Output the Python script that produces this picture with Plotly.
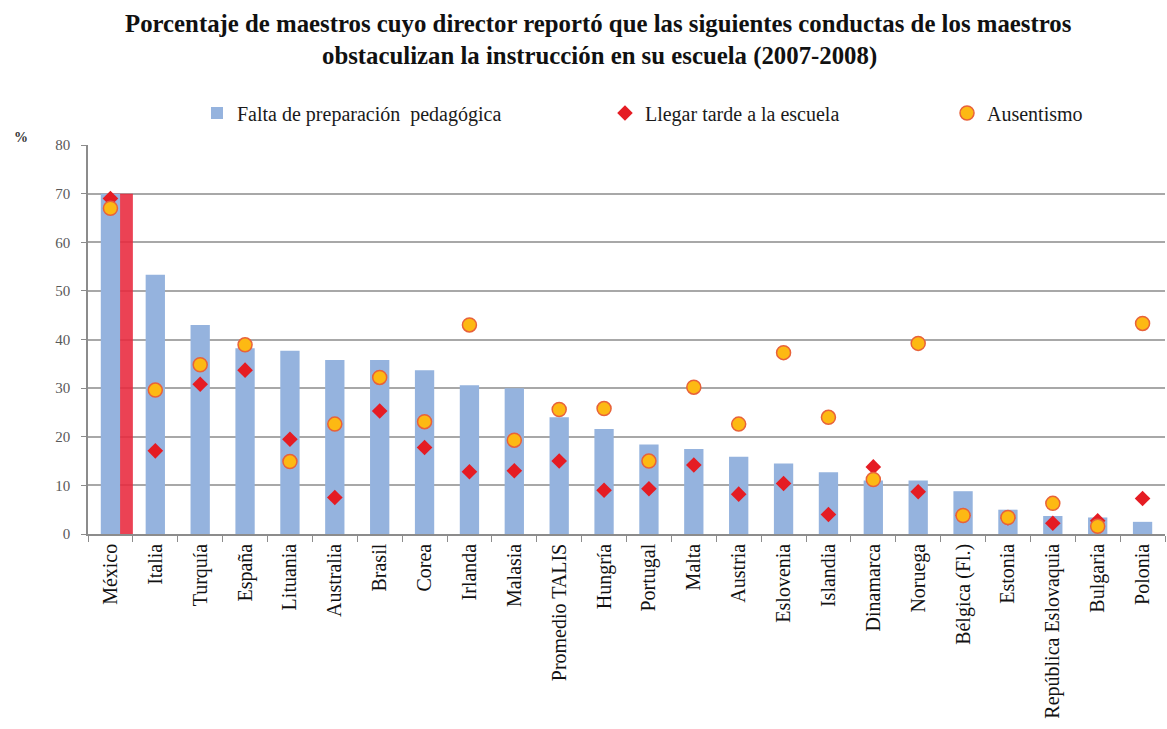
import plotly.graph_objects as go

categories = ["México", "Italia", "Turquía", "España", "Lituania", "Australia", "Brasil",
              "Corea", "Irlanda", "Malasia", "Promedio TALIS", "Hungría", "Portugal",
              "Malta", "Austria", "Eslovenia", "Islandia", "Dinamarca", "Noruega",
              "Bélgica (Fl.)", "Estonia", "República Eslovaquia", "Bulgaria", "Polonia"]

falta_preparacion = [70.0, 53.3, 43.0, 38.2, 37.7, 35.8, 35.8, 33.7, 30.6, 30.0, 24.0, 21.6,
                     18.4, 17.5, 15.9, 14.5, 12.7, 11.0, 11.0, 8.8, 5.0, 3.7, 3.4, 2.5]

llegar_tarde = [69.0, 17.1, 30.8, 33.7, 19.5, 7.5, 25.3, 17.8, 12.8, 13.0, 15.0, 9.0,
                9.3, 14.2, 8.2, 10.4, 4.0, 13.8, 8.7, 3.8, 3.3, 2.2, 2.7, 7.3]

ausentismo = [67.0, 29.6, 34.8, 38.9, 14.9, 22.6, 32.2, 23.1, 43.0, 19.3, 25.6, 25.8,
              15.0, 30.2, 22.6, 37.3, 24.0, 11.2, 39.2, 3.8, 3.4, 6.3, 1.6, 43.3]

highlight_cat = [categories[0]]
highlight_val = [falta_preparacion[0]]

title_line1 = "<b>Porcentaje de maestros cuyo director reportó que las siguientes conductas de los maestros</b>"
title_line2 = "<b>obstaculizan la instrucción en su escuela (2007-2008)</b>"

SERIF = "Liberation Serif, Times New Roman, serif"
W, H = 1167, 729
ML, MR, MT, MB = 88, 2, 145, 195
PW, PH = W - ML - MR, H - MT - MB


def px_x(px):
    return (px - ML) / PW


def px_y(py):
    return (H - MB - py) / PH


fig = go.Figure()

# México highlight (red glow behind the bar)
fig.add_trace(go.Bar(
    x=highlight_cat, y=highlight_val, width=0.52, offset=-0.02,
    marker=dict(color="rgba(232,40,60,0.88)", line=dict(width=0)),
    showlegend=False, hoverinfo="skip"))

fig.add_trace(go.Bar(
    x=categories, y=falta_preparacion, name="Falta de preparación  pedagógica",
    width=0.43, offset=-0.215,
    marker=dict(color="#95b3de", line=dict(width=0)),
    legend="legend"))

fig.add_trace(go.Scatter(
    x=categories, y=llegar_tarde, name="Llegar tarde a la escuela", mode="markers",
    marker=dict(symbol="diamond", size=12, color="#e51c23", line=dict(width=0)),
    legend="legend2"))

fig.add_trace(go.Scatter(
    x=categories, y=ausentismo, name="Ausentismo", mode="markers",
    marker=dict(symbol="circle", size=14, color="#fdb913", line=dict(width=1.5, color="#e8623a")),
    legend="legend3"))

leg_common = dict(xref="container", yref="container", yanchor="middle", xanchor="left",
                  orientation="h", bgcolor="rgba(0,0,0,0)",
                  font=dict(family=SERIF, size=20, color="#1a1a1a"), itemwidth=30)

fig.update_layout(
    width=W, height=H,
    paper_bgcolor="white", plot_bgcolor="white",
    margin=dict(l=ML, r=MR, t=MT, b=MB),
    barmode="overlay",
    legend=dict(x=0.1688, y=1 - 113/H, **leg_common),
    legend2=dict(x=0.5184, y=1 - 113/H, **leg_common),
    legend3=dict(x=0.8115, y=1 - 113/H, **leg_common),
    xaxis=dict(
        tickangle=-90, tickfont=dict(family=SERIF, size=20, color="#111111"),
        showline=True, linecolor="#8c8c8c", linewidth=1.5,
        ticks="outside", tickson="boundaries", ticklen=6, tickcolor="#8c8c8c",
        showgrid=False, range=[-0.5, len(categories) - 0.5]),
    yaxis=dict(
        range=[0, 80], dtick=10, tickfont=dict(family=SERIF, size=15, color="#595959"),
        showline=True, linecolor="#8c8c8c", linewidth=1.5,
        ticks="outside", ticklen=5, tickcolor="#8c8c8c",
        showgrid=True, gridcolor="#a8a8a8", gridwidth=1.5, zeroline=False,
        ticklabelstandoff=8),
    annotations=[
        dict(text=title_line1, xref="paper", yref="paper", x=px_x(598), y=px_y(24),
             xanchor="center", yanchor="middle", showarrow=False,
             font=dict(family=SERIF, size=24.8, color="#111111")),
        dict(text=title_line2, xref="paper", yref="paper", x=px_x(599), y=px_y(56),
             xanchor="center", yanchor="middle", showarrow=False,
             font=dict(family=SERIF, size=24.8, color="#111111")),
        dict(text="<b>%</b>", xref="paper", yref="paper", x=px_x(12), y=px_y(138),
             xanchor="left", yanchor="middle", showarrow=False,
             font=dict(family=SERIF, size=14, color="#333333")),
    ],
)

fig.write_html("out.html", config={"displayModeBar": False},
               post_script="document.body.style.margin='0';")
